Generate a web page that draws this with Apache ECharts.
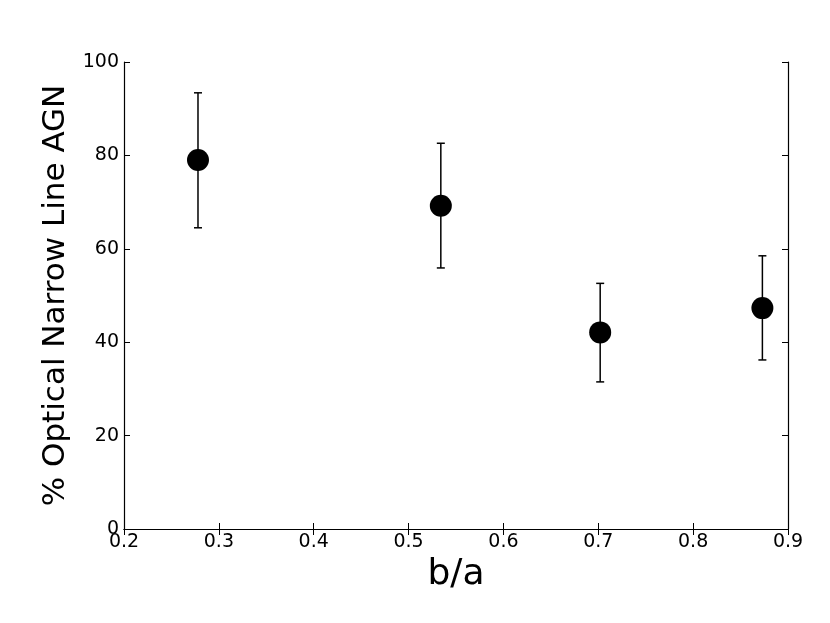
<!DOCTYPE html>
<html>
<head>
<meta charset="utf-8">
<script src="https://cdn.jsdelivr.net/npm/echarts@6/dist/echarts.min.js"></script>
<style>
  html, body { margin: 0; padding: 0; background: #fff; }
  #main { width: 830px; height: 623px; }
</style>
</head>
<body>
<div id="main"></div>
<script>
// values
var ratio = [0.278, 0.534, 0.702, 0.873];     // b/a
var agnPct = [79.0, 69.2, 42.1, 47.3];        // % optical narrow line AGN
var errLow = [64.5, 55.9, 31.5, 36.2];
var errHigh = [93.4, 82.6, 52.6, 58.5];

var chart = echarts.init(document.getElementById('main'));

var pts = ratio.map(function (x, i) { return [x, agnPct[i]]; });
var bars = ratio.map(function (x, i) { return [x, errLow[i], errHigh[i]]; });

var font = 'DejaVu Sans';

function renderBar(params, api) {
  var lo = api.coord([api.value(0), api.value(1)]);
  var hi = api.coord([api.value(0), api.value(2)]);
  var w = 4;
  var st = { stroke: '#000', lineWidth: 1.5 };
  return {
    type: 'group',
    children: [
      { type: 'line', shape: { x1: lo[0], y1: lo[1], x2: hi[0], y2: hi[1] }, style: st },
      { type: 'line', shape: { x1: lo[0] - w, y1: lo[1], x2: lo[0] + w, y2: lo[1] }, style: st },
      { type: 'line', shape: { x1: hi[0] - w, y1: hi[1], x2: hi[0] + w, y2: hi[1] }, style: st }
    ]
  };
}

var option = {
  backgroundColor: '#fff',
  animation: false,
  grid: { left: 124, right: 42, top: 62, bottom: 94 },
  xAxis: [{
    type: 'value', min: 0.2, max: 0.9, interval: 0.1,
    name: 'b/a', nameLocation: 'middle', nameGap: 26,
    nameTextStyle: { fontFamily: font, fontSize: 36, color: '#000' },
    axisLine: { show: true, lineStyle: { color: '#000', width: 1.2 } },
    axisTick: { show: true, inside: true, length: 6, lineStyle: { color: '#000' } },
    axisLabel: { fontFamily: font, fontSize: 19, color: '#000', margin: 4,
      formatter: function (v) { return v.toFixed(1); } },
    splitLine: { show: false }
  }, {
    type: 'value', position: 'top', min: 0.2, max: 0.9, interval: 0.1,
    axisLine: { show: true, lineStyle: { color: '#000', width: 1.2 } },
    axisTick: { show: true, inside: true, length: 6, lineStyle: { color: '#000' } },
    axisLabel: { show: false }, splitLine: { show: false }
  }],
  yAxis: [{
    type: 'value', min: 0, max: 100, interval: 20,
    name: '% Optical Narrow Line AGN', nameLocation: 'middle', nameGap: 50,
    nameTextStyle: { fontFamily: font, fontSize: 31, color: '#000' },
    axisLine: { show: true, lineStyle: { color: '#000', width: 1.2 } },
    axisTick: { show: true, inside: true, length: 6, lineStyle: { color: '#000' } },
    axisLabel: { fontFamily: font, fontSize: 19, color: '#000', margin: 5 },
    splitLine: { show: false }
  }, {
    type: 'value', position: 'right', min: 0, max: 100, interval: 20,
    axisLine: { show: true, lineStyle: { color: '#000', width: 1.2 } },
    axisTick: { show: true, inside: true, length: 6, lineStyle: { color: '#000' } },
    axisLabel: { show: false }, splitLine: { show: false }
  }],
  series: [{
    type: 'custom',
    renderItem: renderBar,
    encode: { x: 0, y: [1, 2] },
    data: bars,
    z: 1
  }, {
    type: 'scatter',
    symbol: 'circle',
    symbolSize: 22,
    itemStyle: { color: '#000', opacity: 1 },
    data: pts,
    z: 2
  }]
};

chart.setOption(option);
</script>
</body>
</html>
